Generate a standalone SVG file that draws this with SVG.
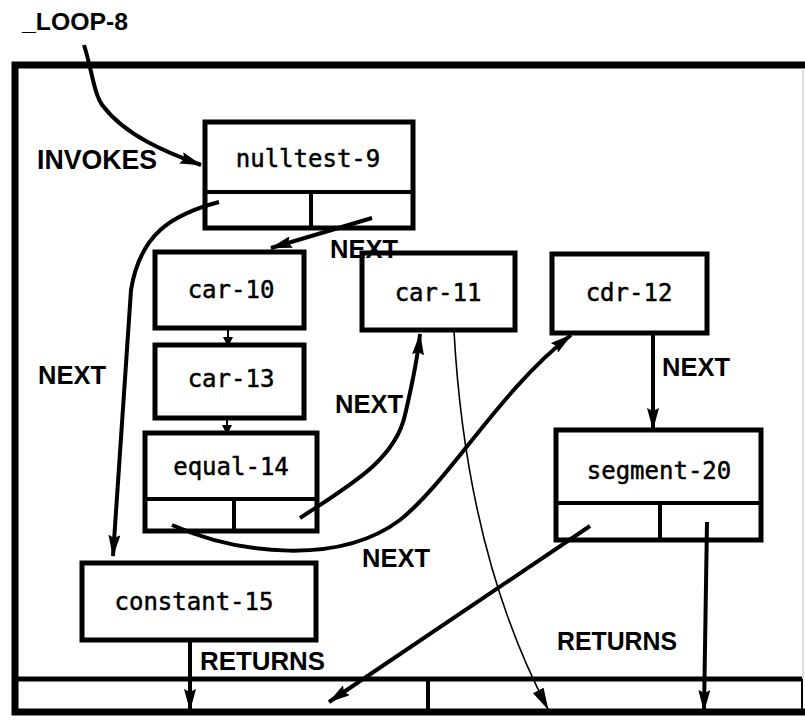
<svg xmlns="http://www.w3.org/2000/svg" width="805" height="721" viewBox="0 0 805 721">
<style>
.box{fill:#fff;stroke:#000;stroke-width:5}
.div{stroke:#000;stroke-width:4;fill:none}
.nt{font-family:"DejaVu Sans Mono","Liberation Mono",monospace;font-size:24px;text-anchor:middle;fill:#000;stroke:#000;stroke-width:0.5}
.lb{font-family:"Liberation Sans",Arial,sans-serif;font-weight:bold;font-size:26px;fill:#000}
.c{fill:none;stroke:#000;stroke-width:4;marker-end:url(#ah)}
.thin{fill:none;stroke:#000;stroke-width:1.6;marker-end:url(#ah2)}
.sm{fill:none;stroke:#000;stroke-width:2;marker-end:url(#as)}
</style>
<defs>
<marker id="ah" markerUnits="userSpaceOnUse" markerWidth="22" markerHeight="12" refX="21" refY="6" orient="auto"><path d="M0,0 L22,6 L0,12 L3,6 z" fill="#000"/></marker>
<marker id="ah2" markerUnits="userSpaceOnUse" markerWidth="22" markerHeight="12" refX="21" refY="6" orient="auto"><path d="M0,0 L22,6 L0,12 z" fill="#000"/></marker>
<marker id="as" markerUnits="userSpaceOnUse" markerWidth="10" markerHeight="10" refX="9" refY="5" orient="auto"><path d="M0,0 L10,5 L0,10 z" fill="#000"/></marker>
</defs>
<rect width="805" height="721" fill="#fff"/>
<g id="frame">
<path d="M812 65 L15 65 L15 712 L812 712" fill="none" stroke="#000" stroke-width="7"/>
<line x1="15" y1="679" x2="802" y2="679" stroke="#000" stroke-width="5"/>
<line x1="428" y1="679" x2="428" y2="712" stroke="#000" stroke-width="4"/>
<line x1="802" y1="679" x2="802" y2="712" stroke="#000" stroke-width="2"/>
<line x1="803" y1="70" x2="803" y2="679" stroke="#bbb" stroke-width="1"/>
</g>
<g id="nulltest-9">
<rect class="box" x="205" y="122" width="208" height="106"/>
<line class="div" x1="205" y1="192" x2="413" y2="192"/>
<line class="div" x1="311" y1="192" x2="311" y2="228"/>
<text class="nt" x="308" y="167">nulltest-9</text>
</g>
<g id="car-10">
<rect class="box" x="155" y="252" width="149" height="76"/>
<text class="nt" x="231" y="298">car-10</text>
</g>
<g id="car-13">
<rect class="box" x="155" y="345" width="149" height="73"/>
<text class="nt" x="231" y="387">car-13</text>
</g>
<g id="equal-14">
<rect class="box" x="145" y="433" width="172" height="98"/>
<line class="div" x1="145" y1="499" x2="317" y2="499"/>
<line class="div" x1="234" y1="499" x2="234" y2="531"/>
<text class="nt" x="231" y="475">equal-14</text>
</g>
<g id="car-11">
<rect class="box" x="362" y="253" width="153" height="77"/>
<text class="nt" x="438" y="301">car-11</text>
</g>
<g id="cdr-12">
<rect class="box" x="552" y="254" width="155" height="79"/>
<text class="nt" x="629" y="301">cdr-12</text>
</g>
<g id="segment-20">
<rect class="box" x="556" y="430" width="205" height="110"/>
<line class="div" x1="556" y1="503" x2="761" y2="503"/>
<line class="div" x1="660" y1="503" x2="660" y2="540"/>
<text class="nt" x="659" y="479">segment-20</text>
</g>
<g id="constant-15">
<rect class="box" x="82" y="563" width="234" height="77"/>
<text class="nt" x="194" y="610">constant-15</text>
</g>
<g id="connectors">
<path class="c" d="M84 45 C92 70,94 95,103 106 C125 135,165 152,201 165"/>
<path class="c" d="M219 202 C170 215,140 235,131 290 L113 556"/>
<path class="c" d="M372 218 L271 248"/>
<path class="c" d="M300 518 C350 485,395 460,405 415 C412 385,418 355,420 334"/>
<path class="c" d="M172 525 C240 555,340 565,400 520 C450 480,500 390,571 335"/>
<path class="thin" d="M454 331 C460 440,480 580,548 709"/>
<path class="c" d="M653 334 L653 429"/>
<path class="c" d="M590 526 L329 702"/>
<path class="c" d="M707 522 L704 711"/>
<path class="c" d="M190 641 L190 710"/>
<path class="sm" d="M228 329 L228 346"/>
<path class="sm" d="M227 419 L227 434"/>
</g>
<g id="labels">
<text class="lb" x="22" y="30" font-size="23" textLength="106" lengthAdjust="spacingAndGlyphs" style="font-size:23px">_LOOP-8</text>
<text class="lb" x="37" y="169" textLength="120" lengthAdjust="spacingAndGlyphs" style="font-size:27px">INVOKES</text>
<text class="lb" x="38" y="384" textLength="68" lengthAdjust="spacingAndGlyphs">NEXT</text>
<text class="lb" x="330" y="258" textLength="68" lengthAdjust="spacingAndGlyphs">NEXT</text>
<text class="lb" x="335" y="413" textLength="68" lengthAdjust="spacingAndGlyphs">NEXT</text>
<text class="lb" x="662" y="376" textLength="68" lengthAdjust="spacingAndGlyphs">NEXT</text>
<text class="lb" x="362" y="567" textLength="68" lengthAdjust="spacingAndGlyphs">NEXT</text>
<text class="lb" x="200" y="670" textLength="125" lengthAdjust="spacingAndGlyphs">RETURNS</text>
<text class="lb" x="557" y="650" textLength="120" lengthAdjust="spacingAndGlyphs">RETURNS</text>
</g>
</svg>
